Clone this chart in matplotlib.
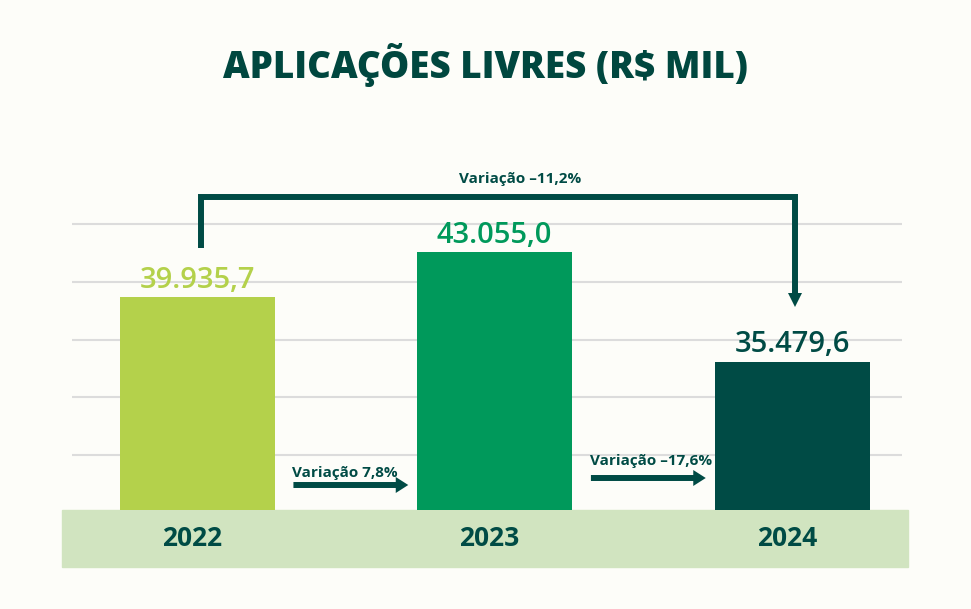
import matplotlib
matplotlib.use("Agg")
import matplotlib.pyplot as plt

# ---- data ----
years = ["2022", "2023", "2024"]
values = [39935.7, 43055.0, 35479.6]
value_labels = ["39.935,7", "43.055,0", "35.479,6"]
step_labels = ["Variação 7,8%", "Variação –17,6%"]
total_label = "Variação –11,2%"
title = "APLICAÇÕES LIVRES (R$ MIL)"

bar_colors = ["#b4d14b", "#00995b", "#004b45"]
dark = "#004b45"
bg = "#fdfdf9"
band = "#d1e4c0"
grid_c = "#dcdcdc"

plt.rcParams['font.family'] = ['Open Sans', 'DejaVu Sans']

fig = plt.figure(figsize=(9.71, 6.09), dpi=100, facecolor=bg)
ax = fig.add_axes([62/971, (609-510)/609, (908-62)/971, 360/609])
ax.set_facecolor(bg)

ymin = 25180
ymax = ymin + 360*69.4
ax.set_ylim(ymin, ymax)
ax.set_xlim(-0.4539, 2.3898)

x = list(range(len(years)))
# grid lines
for g in [29000, 33000, 37000, 41000, 45000]:
    ax.hlines(g, -0.42, 2.37, color=grid_c, lw=1.5, zorder=0)

bars = ax.bar(x, [v - ymin for v in values], bottom=ymin, width=0.521,
              color=bar_colors, zorder=2)

for xi, v, lab, c in zip(x, values, value_labels, bar_colors):
    ax.annotate(lab, (xi, v), xytext=(0, 7), textcoords="offset points",
                ha="center", va="baseline", fontsize=21, color=c, fontweight="semibold")

for s in ax.spines.values():
    s.set_visible(False)
ax.set_xticks([])
ax.set_yticks([])

tr = ax.get_xaxis_transform()
# bottom band with year labels
ax.add_patch(plt.Rectangle((0, -57/360), 1, 57/360, transform=ax.transAxes,
                           color=band, clip_on=False, zorder=1))
for xi, yr in zip(x, years):
    ax.text(xi - 0.018, -28.5/360, yr, transform=tr, ha="center", va="center",
            fontsize=19, fontweight="bold", color=dark)

# step arrows
arrow_y = [25/360, 32/360]
text_y = [33.5/360, 44.5/360]
for i, (lab, ay, ty) in enumerate(zip(step_labels, arrow_y, text_y)):
    xs = i + 0.324
    xe = i + 0.71
    ax.annotate("", xy=(xe, ay), xytext=(xs, ay), xycoords=tr, textcoords=tr,
                arrowprops=dict(arrowstyle="simple,head_width=11.5,head_length=9,tail_width=4.3",
                                mutation_scale=1, color=dark, shrinkA=0, shrinkB=0, lw=0))
    ax.text(xs - 0.004, ty, lab, transform=tr, ha="left", va="baseline",
            fontsize=11, fontweight="bold", color=dark)

# bracket arrow 2022 -> 2024
y_start = (510-248)/360
y_top = (510-197)/360
y_end = (510-296)/360
xr = 2.01
ax.plot([0.012, 0.012, xr, xr], [y_start, y_top, y_top, y_end], transform=tr,
        color=dark, lw=4.3, solid_joinstyle="miter", solid_capstyle="butt", clip_on=False)
ax.plot([xr], [(510-300)/360], transform=tr, marker="v", markersize=10,
        color=dark, clip_on=False, markeredgewidth=0)
ax.text(1.085, (510-179)/360, total_label, transform=tr, ha="center", va="center",
        fontsize=11, fontweight="bold", color=dark)

fig.text(485/971, 1 - 65/609, title, ha="center", va="center", fontsize=26.5,
         fontweight="heavy", color="#00473f")

fig.savefig("out.png", dpi=100, facecolor=bg)
